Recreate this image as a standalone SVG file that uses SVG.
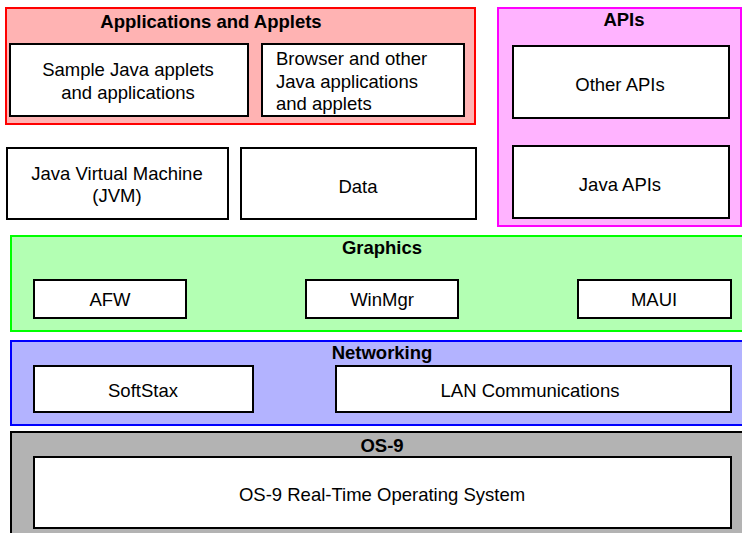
<svg xmlns="http://www.w3.org/2000/svg" width="742" height="533" viewBox="0 0 742 533">
<style>
text{font-family:"Liberation Sans",Arial,sans-serif;font-size:18.5px;fill:#000}
.t{font-weight:bold;text-anchor:middle}
.c{text-anchor:middle}
.box{fill:#fff;stroke:#000;stroke-width:2}
</style>
<rect width="742" height="533" fill="#fff"/>
<g id="apps">
<rect x="6" y="8" width="469" height="116" fill="#ffb3b3" stroke="#f00" stroke-width="2"/>
<text class="t" x="211" y="28">Applications and Applets</text>
</g>
<g id="sample">
<rect class="box" x="10" y="44" width="238" height="72"/>
<text class="c" x="128" y="76">Sample Java applets</text>
<text class="c" x="128" y="99">and applications</text>
</g>
<g id="browser">
<rect class="box" x="262" y="44" width="202" height="72"/>
<text x="276" y="65">Browser and other</text>
<text x="276" y="88">Java applications</text>
<text x="276" y="110">and applets</text>
</g>
<g id="jvm">
<rect class="box" x="7" y="148" width="221" height="71"/>
<text class="c" x="117" y="180">Java Virtual Machine</text>
<text class="c" x="117" y="202">(JVM)</text>
</g>
<g id="data">
<rect class="box" x="241" y="148" width="235" height="71"/>
<text class="c" x="358" y="193">Data</text>
</g>
<g id="apis">
<rect x="498" y="8" width="243" height="218" fill="#ffb3ff" stroke="#f0f" stroke-width="2"/>
<text class="t" x="624" y="26">APIs</text>
</g>
<g id="otherapis">
<rect class="box" x="513" y="46" width="216" height="72"/>
<text class="c" x="620" y="91">Other APIs</text>
</g>
<g id="javaapis">
<rect class="box" x="513" y="146" width="216" height="72"/>
<text class="c" x="620" y="191">Java APIs</text>
</g>
<g id="graphics">
<rect x="11" y="236" width="740" height="95" fill="#b3ffb3" stroke="#0f0" stroke-width="2"/>
<text class="t" x="382" y="254">Graphics</text>
</g>
<g id="afw">
<rect class="box" x="34" y="280" width="152" height="38"/>
<text class="c" x="110" y="306">AFW</text>
</g>
<g id="winmgr">
<rect class="box" x="306" y="280" width="152" height="38"/>
<text class="c" x="382" y="306">WinMgr</text>
</g>
<g id="maui">
<rect class="box" x="578" y="280" width="153" height="38"/>
<text class="c" x="654" y="306">MAUI</text>
</g>
<g id="networking">
<rect x="11" y="341" width="740" height="84" fill="#b3b3ff" stroke="#00f" stroke-width="2"/>
<text class="t" x="382" y="359">Networking</text>
</g>
<g id="softstax">
<rect class="box" x="34" y="366" width="219" height="46"/>
<text class="c" x="143" y="397">SoftStax</text>
</g>
<g id="lan">
<rect class="box" x="336" y="366" width="395" height="46"/>
<text class="c" x="530" y="397">LAN Communications</text>
</g>
<g id="os9">
<rect x="11" y="432" width="740" height="110" fill="#b3b3b3" stroke="#000" stroke-width="2"/>
<text class="t" x="382" y="452">OS-9</text>
</g>
<g id="rtos">
<rect class="box" x="34" y="457" width="697" height="71"/>
<text class="c" x="382" y="501">OS-9 Real-Time Operating System</text>
</g>
<g id="connectors"></g>
</svg>
